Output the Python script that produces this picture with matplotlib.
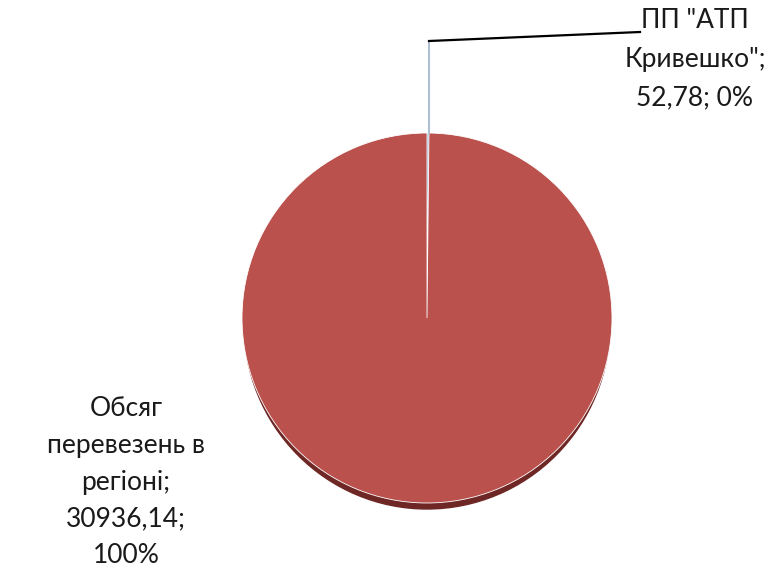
import matplotlib
matplotlib.use("Agg")
import matplotlib.pyplot as plt
from matplotlib.patches import Ellipse

plt.rcParams['font.family'] = ['Lato', 'DejaVu Sans']

names = ['ПП "АТП\nКривешко"', 'Обсяг\nперевезень в\nрегіоні']
values = [52.78, 30936.14]
shares = ['0%', '100%']
colors = ['#4F81BD', '#BA514D']

fig = plt.figure(figsize=(7.79, 5.69), dpi=100)
ax = fig.add_axes([0, 0, 1, 1])

cx, cy, r = 427, 318, 185

# darker rim under the pie for the tilted look
ax.add_patch(Ellipse((cx, cy + 6), 2 * r - 4, 2 * r, color='#6E2724', zorder=1))

# y axis is flipped below, so -90 puts the first slice at the top
ax.pie(values, colors=colors, startangle=-90, counterclock=True,
       center=(cx, cy), radius=r, frame=True,
       wedgeprops=dict(edgecolor='white', linewidth=0.6, zorder=2))
ax.set_xlim(0, 779)
ax.set_ylim(569, 0)
ax.set_aspect('auto')
ax.axis('off')

def fmt(v):
    return f"{v:.2f}".replace('.', ',')

# leader line for the small slice
ax.plot([429, 429], [cy - r, 41], color='#9DB3CC', lw=1.2, zorder=3)
ax.plot([429, 640], [41, 32], color='black', lw=1.6, zorder=3)

ax.text(695, 59, f'{names[0]};\n{fmt(values[0])}; {shares[0]}',
        ha='center', va='center', fontsize=19, color='#1a1a1a',
        linespacing=1.68)
ax.text(126, 482, f'{names[1]};\n{fmt(values[1])};\n{shares[1]}',
        ha='center', va='center', fontsize=19, color='#1a1a1a',
        linespacing=1.58)

fig.savefig('out.png', dpi=100, facecolor='white')
